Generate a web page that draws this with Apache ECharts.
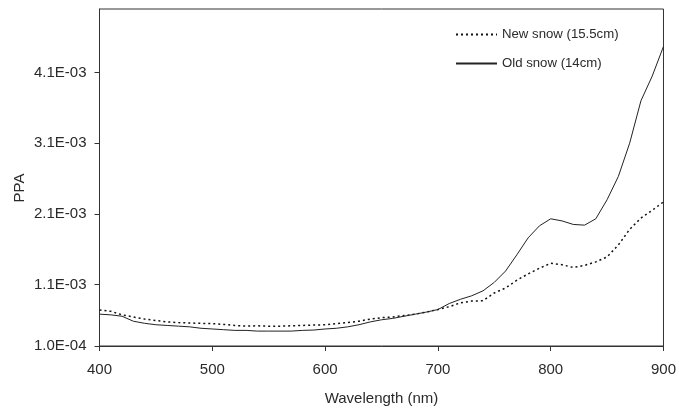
<!DOCTYPE html>
<html>
<head>
<meta charset="utf-8">
<script src="https://cdn.jsdelivr.net/npm/echarts@6/dist/echarts.min.js"></script>
<style>html,body{margin:0;padding:0;background:#fff;}#c{width:679px;height:411px;}</style>
</head>
<body>
<div id="c"></div>
<script>
var wavelengths = [400,410,420,430,440,450,460,470,480,490,500,510,520,530,540,550,560,570,580,590,600,610,620,630,640,650,660,670,680,690,700,710,720,730,740,750,760,770,780,790,800,810,820,830,840,850,860,870,880,890,900];
var newSnow = [7.4e-4,7.2e-4,6.7e-4,6.4e-4,6.1e-4,5.9e-4,5.7e-4,5.6e-4,5.55e-4,5.5e-4,5.45e-4,5.35e-4,5.2e-4,5.1e-4,5.15e-4,5.1e-4,5.1e-4,5.15e-4,5.2e-4,5.25e-4,5.3e-4,5.45e-4,5.6e-4,5.8e-4,6.1e-4,6.3e-4,6.4e-4,6.6e-4,6.8e-4,7.1e-4,7.45e-4,7.85e-4,8.4e-4,8.65e-4,8.7e-4,9.8e-4,1.05e-3,1.16e-3,1.25e-3,1.33e-3,1.40e-3,1.38e-3,1.34e-3,1.37e-3,1.42e-3,1.49e-3,1.66e-3,1.88e-3,2.04e-3,2.15e-3,2.27e-3];
var oldSnow = [6.8e-4,6.7e-4,6.5e-4,5.8e-4,5.5e-4,5.3e-4,5.2e-4,5.1e-4,5.0e-4,4.8e-4,4.7e-4,4.6e-4,4.5e-4,4.5e-4,4.4e-4,4.4e-4,4.4e-4,4.4e-4,4.5e-4,4.55e-4,4.7e-4,4.8e-4,5.0e-4,5.3e-4,5.7e-4,6.0e-4,6.2e-4,6.5e-4,6.8e-4,7.1e-4,7.45e-4,8.3e-4,8.9e-4,9.4e-4,1.01e-3,1.13e-3,1.29e-3,1.52e-3,1.76e-3,1.93e-3,2.03e-3,2.00e-3,1.95e-3,1.94e-3,2.03e-3,2.30e-3,2.63e-3,3.10e-3,3.70e-3,4.05e-3,4.47e-3];
var yTickValues = [0.000229, 0.0011, 0.0021, 0.0031, 0.0041];
var yTickLabels = ['1.0E-04','1.1E-03','2.1E-03','3.1E-03','4.1E-03'];
var seriesNames = ['New snow (15.5cm)', 'Old snow (14cm)'];

var chart = echarts.init(document.getElementById('c'), null, {renderer:'canvas'});
function pairs(ys){ return wavelengths.map(function(w,i){return [w, ys[i]];}); }
var font = 'Liberation Sans, Arial, sans-serif';
var txt = '#2a2a2a';
chart.setOption({
  animation:false,
  backgroundColor:'#fff',
  textStyle:{fontFamily:font},
  grid:{left:99.5, right:14, top:9, bottom:64, show:true, borderColor:'#333', borderWidth:1},
  legend:{
    left:455, top:28, padding:0, orient:'vertical', itemWidth:41, itemHeight:14, itemGap:16,
    itemStyle:{opacity:0},
    textStyle:{fontFamily:font, fontSize:13.2, color:txt},
    data:seriesNames
  },
  xAxis:{
    type:'value', min:400, max:900, interval:100,
    name:'Wavelength (nm)', nameLocation:'middle', nameGap:45,
    nameTextStyle:{fontFamily:font, fontSize:15, color:txt},
    axisLine:{lineStyle:{color:'#333', width:1}},
    axisTick:{show:true, length:5, lineStyle:{color:'#333'}},
    axisLabel:{fontFamily:font, fontSize:15, color:txt, margin:16},
    splitLine:{show:false}
  },
  yAxis:{
    type:'value', min:0.000229, max:0.005,
    axisLine:{show:true, lineStyle:{color:'#333', width:1}},
    axisTick:{show:true, length:5, lineStyle:{color:'#333'}, customValues:yTickValues},
    axisLabel:{fontFamily:font, fontSize:15, color:txt, margin:13, customValues:yTickValues,
      formatter:function(v){
        var best=0; for(var i=0;i<yTickValues.length;i++){ if(Math.abs(yTickValues[i]-v)<Math.abs(yTickValues[best]-v)) best=i; }
        return yTickLabels[best];
      }},
    splitLine:{show:false}
  },
  graphic:[{type:'text', x:20, y:188, rotation:Math.PI/2,
    style:{text:'PPA', font:'15px '+font, fill:txt, align:'center', verticalAlign:'middle'}}],
  series:[
    {name:seriesNames[0], type:'line', data:pairs(newSnow), showSymbol:false, symbol:'none',
     lineStyle:{color:'#111', width:1.5, type:[2,3]}, itemStyle:{color:'#111'}},
    {name:seriesNames[1], type:'line', data:pairs(oldSnow), showSymbol:false, symbol:'none',
     lineStyle:{color:'#222', width:1}, itemStyle:{color:'#222'}}
  ]
});
</script>
</body>
</html>
